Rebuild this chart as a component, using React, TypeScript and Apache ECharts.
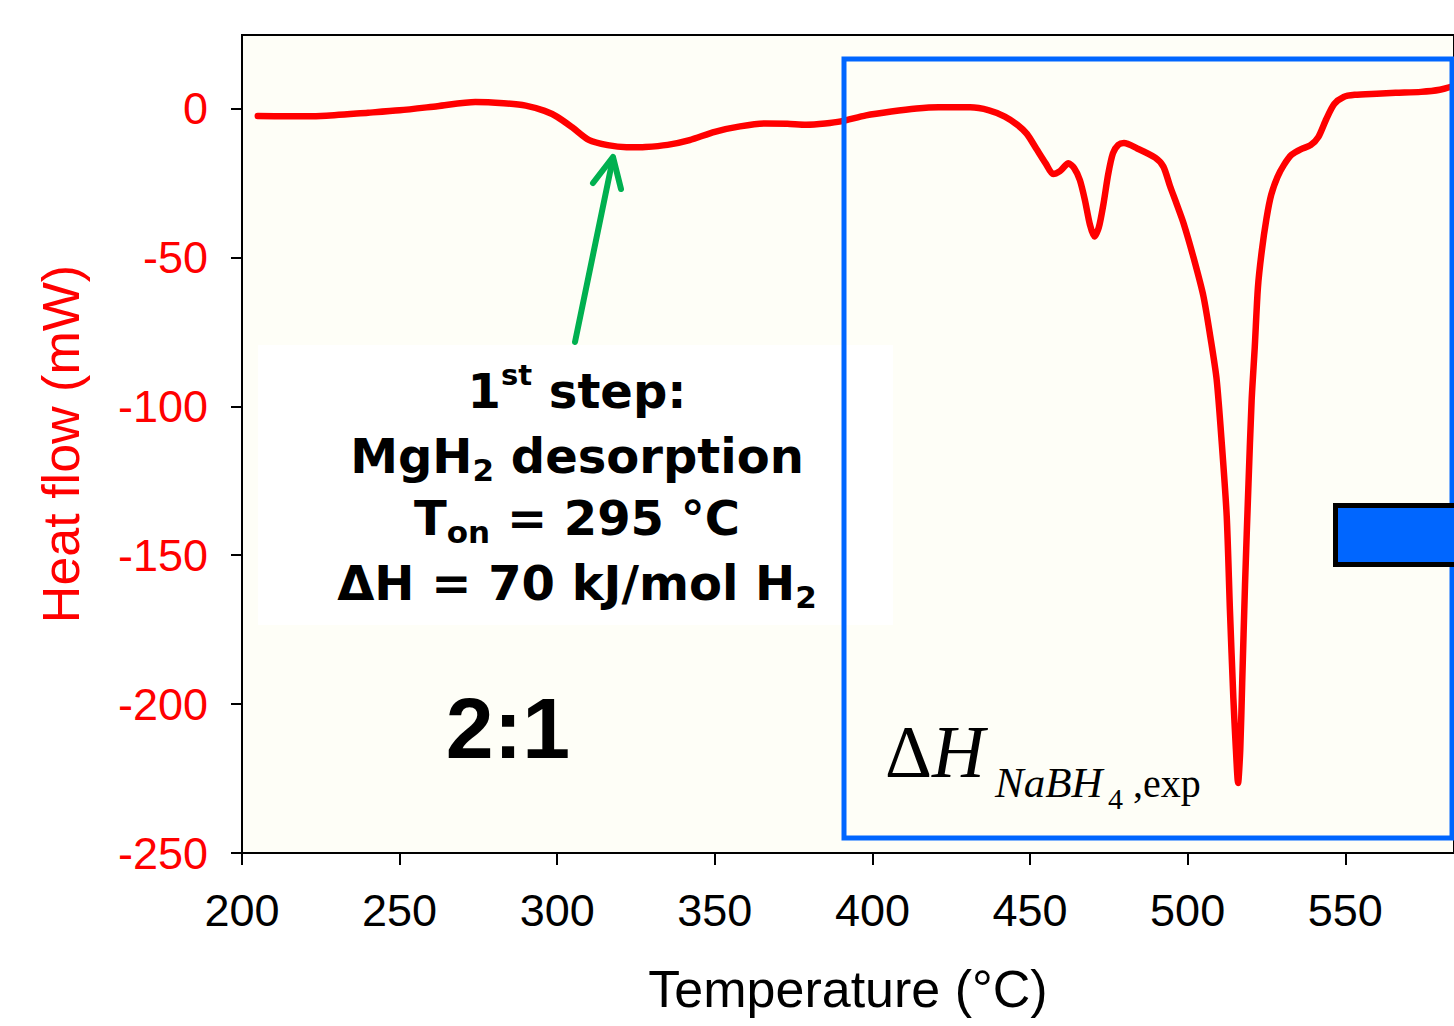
import React, { useEffect, useRef } from "react";
import * as echarts from "echarts";

// Temperature (°C) and heat flow (mW)
const temps = [
  205, 215, 225, 240, 250, 262, 274, 283, 290, 296, 300, 305, 310, 316, 322, 328,
  335, 342, 350, 358, 366, 373, 379, 385, 390, 398, 406, 414, 421, 431, 437, 442,
  446, 449, 452, 455, 457.3, 459.5, 462.2, 464, 465.8, 467.4, 469, 470.4, 471.8,
  473.3, 474.8, 476.3, 478, 479.8, 484, 489.7, 492.3, 494.4, 496.5, 498.7, 501.8,
  505, 507.4, 509.2, 510.8, 512.4, 513.4, 514.5, 515.3, 516, 516.7, 517.3, 518.2,
  519.3, 520.3, 521.3, 522.3, 523.5, 525, 526.5, 528.5, 530.5, 533, 536, 539,
  541.5, 544, 546.5, 549.5, 553, 560, 566, 574, 580, 584.5,
];
const heatFlow = [
  -2.5, -2.6, -2.5, -1.4, -0.6, 0.8, 2.2, 1.8, 1.0, -0.8, -2.8, -6.5, -10.5, -12.3,
  -13.0, -12.9, -12.2, -10.6, -7.8, -6.0, -5.0, -5.1, -5.4, -5.0, -4.3, -2.3, -1.0,
  0.0, 0.4, 0.4, -0.6, -2.7, -5.5, -8.5, -13.5, -18.5, -22.0, -21.0, -18.4, -20,
  -24, -30.7, -39, -43.0, -40, -32, -22, -15, -12.2, -11.6, -13.4, -16.5, -19.5,
  -26, -32, -38.5, -49.8, -63, -78, -91, -112, -137, -168, -198, -215, -226.5,
  -215, -193, -160, -126, -98, -80, -60, -48, -37, -29, -23, -19, -15.5, -13.6,
  -12.3, -9.5, -3.5, 1.5, 3.9, 4.6, 5.0, 5.3, 5.6, 6.3, 7.6,
];
const xTicks = [200, 250, 300, 350, 400, 450, 500, 550];
const yTicks = [0, -50, -100, -150, -200, -250];

const SANS = "'Liberation Sans', Arial, sans-serif";
const SERIF = "'Liberation Serif', 'Times New Roman', serif";
const ANNO = "'DejaVu Sans', sans-serif";

export default function App() {
  const ref = useRef<HTMLDivElement>(null);

  useEffect(() => {
    document.body.style.margin = "0";
    if (!ref.current) return;
    const chart = echarts.init(ref.current, undefined, { renderer: "svg" });

    const main = { fontSize: 48, fontWeight: "bold", fontFamily: ANNO, fill: "#000", lineHeight: 60, verticalAlign: "middle" };
    const sup = { fontSize: 29, fontWeight: "bold", fontFamily: ANNO, fill: "#000", lineHeight: 42, verticalAlign: "top" };
    const sub = { fontSize: 31, fontWeight: "bold", fontFamily: ANNO, fill: "#000", lineHeight: 24, verticalAlign: "bottom" };
    const rich = { m: main, sup, sub };
    const annoLine = (text: string, y: number) => ({
      type: "text",
      x: 577,
      y,
      z: 20,
      style: { text, align: "center", verticalAlign: "middle", rich, fontSize: 48, fontFamily: ANNO },
    });

    chart.setOption({
      animation: false,
      backgroundColor: "#ffffff",
      grid: {
        left: 242,
        top: 35,
        width: 1212,
        height: 818,
        show: true,
        backgroundColor: "#FEFEF7",
        borderColor: "#000000",
        borderWidth: 2,
        containLabel: false,
      },
      xAxis: {
        type: "value",
        min: 200,
        max: 584.5,
        name: "Temperature (°C)",
        nameLocation: "middle",
        nameGap: 110,
        nameTextStyle: { fontSize: 52, color: "#000", fontFamily: SANS },
        axisLine: { show: true, onZero: false, lineStyle: { color: "#000", width: 2 } },
        axisTick: { show: true, length: 12, inside: false, customValues: xTicks, lineStyle: { color: "#000", width: 2 } },
        axisLabel: { customValues: xTicks, fontSize: 45, color: "#000", fontFamily: SANS, margin: 35 },
        splitLine: { show: false },
      },
      yAxis: {
        type: "value",
        min: -250,
        max: 24.7,
        name: "Heat flow (mW)",
        nameLocation: "middle",
        nameGap: 155,
        nameTextStyle: { fontSize: 52, color: "#FF0000", fontFamily: SANS },
        axisLine: { show: true, onZero: false, lineStyle: { color: "#000", width: 2 } },
        axisTick: { show: true, length: 11, inside: false, customValues: yTicks, lineStyle: { color: "#000", width: 2 } },
        axisLabel: { customValues: yTicks, fontSize: 45, color: "#FF0000", fontFamily: SANS, margin: 34 },
        splitLine: { show: false },
      },
      series: [
        {
          type: "line",
          data: temps.map((t, i) => [t, heatFlow[i]]),
          showSymbol: false,
          smooth: 0.25,
          lineStyle: { color: "#FF0000", width: 6.5, cap: "round", join: "round" },
          z: 5,
        },
      ],
      graphic: [
        { type: "rect", z: 10, shape: { x: 258, y: 345, width: 635, height: 280 }, style: { fill: "#FFFFFF" } },
        annoLine("{m|1}{sup|st}{m| step:}", 390.5),
        annoLine("{m|MgH}{sub|2}{m| desorption}", 455.5),
        annoLine("{m|T}{sub|on}{m| = 295 °C}", 517.5),
        annoLine("{m|ΔH = 70 kJ/mol H}{sub|2}", 582.5),
        {
          type: "text",
          x: 508,
          y: 728,
          z: 20,
          style: { text: "2:1", align: "center", verticalAlign: "middle", fontSize: 86, fontWeight: "bold", fontFamily: SANS, fill: "#000" },
        },
        { type: "line", z: 20, shape: { x1: 575, y1: 342, x2: 613, y2: 158 }, style: { stroke: "#00B050", lineWidth: 6, lineCap: "round" } },
        { type: "polyline", z: 20, shape: { points: [[593, 183], [613, 157], [621, 189]] }, style: { stroke: "#00B050", lineWidth: 6, lineCap: "round", lineJoin: "round", fill: "none" } },
        { type: "rect", z: 15, shape: { x: 844, y: 59, width: 608, height: 779 }, style: { fill: "none", stroke: "#0066FF", lineWidth: 5 } },
        { type: "rect", z: 16, shape: { x: 1335.5, y: 505.5, width: 200, height: 59 }, style: { fill: "#0066FF", stroke: "#000000", lineWidth: 5 } },
        {
          type: "text",
          x: 885,
          y: 752.4,
          z: 20,
          style: {
            text: "{d|Δ}{h|H}",
            align: "left",
            verticalAlign: "middle",
            fontSize: 73,
            fontFamily: SERIF,
            rich: {
              d: { fontSize: 73, fontFamily: SERIF, fill: "#000" },
              h: { fontSize: 73, fontFamily: SERIF, fontStyle: "italic", fill: "#000" },
            },
          },
        },
        { type: "text", x: 995, y: 782.5, z: 20, style: { text: "NaBH", align: "left", verticalAlign: "middle", fontSize: 43, fontStyle: "italic", fontFamily: SERIF, fill: "#000" } },
        { type: "text", x: 1108, y: 798, z: 20, style: { text: "4", align: "left", verticalAlign: "middle", fontSize: 30, fontFamily: SERIF, fill: "#000" } },
        { type: "text", x: 1133, y: 783.5, z: 20, style: { text: ",exp", align: "left", verticalAlign: "middle", fontSize: 40, fontFamily: SERIF, fill: "#000" } },
      ],
    });

    return () => chart.dispose();
  }, []);

  return <div ref={ref} style={{ position: "absolute", left: 0, top: 0, width: 1454, height: 1026 }} />;
}
